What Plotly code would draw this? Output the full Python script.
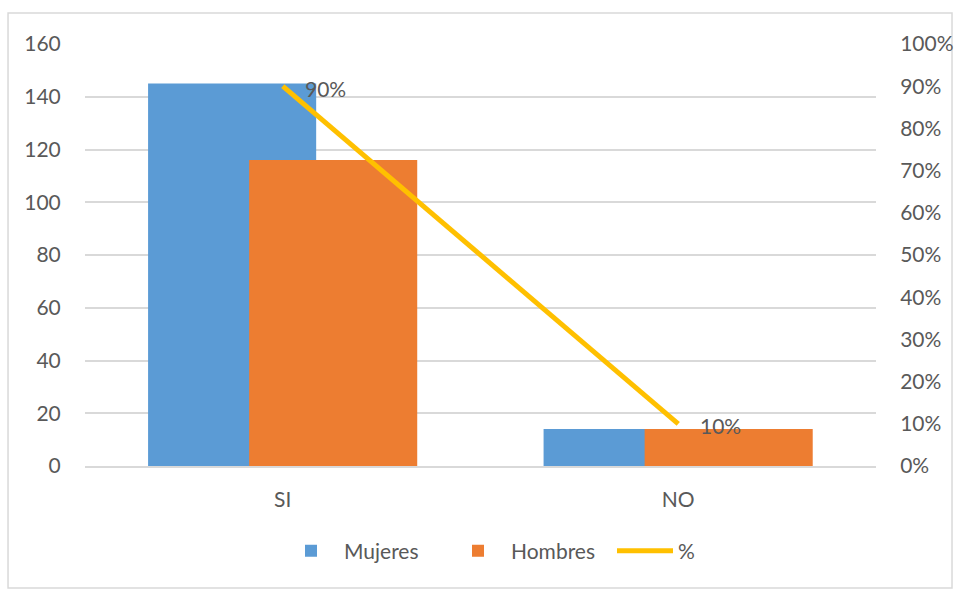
import plotly.graph_objects as go

categories = ["SI", "NO"]
mujeres = [145, 14]
hombres = [116, 14]
pct = [0.90, 0.10]
pct_labels = ["90%", "10%"]

FONT = "Lato"
FS = 21
TXT = "#595959"
GRID = "#D9D9D9"

fig = go.Figure()
fig.add_trace(go.Bar(x=categories, y=mujeres, name="Mujeres", marker_color="#5B9BD5",
                     width=0.425, offset=-0.3405, marker_line_width=0))
fig.add_trace(go.Bar(x=categories, y=hombres, name="Hombres", marker_color="#ED7D31",
                     width=0.425, offset=-0.085, marker_line_width=0))
fig.add_trace(go.Scatter(x=categories, y=pct, name="%", mode="lines", yaxis="y2",
                         line=dict(color="#FFC000", width=5)))

for c, v, t in zip(categories, pct, pct_labels):
    fig.add_annotation(x=c, y=v, xref="x", yref="y2", text=t, showarrow=False,
                       xanchor="left", yanchor="middle", xshift=20, yshift=-2,
                       font=dict(family=FONT, size=FS, color=TXT))

fig.add_shape(type="rect", xref="paper", yref="paper", x0=-0.0973, x1=1.0961,
              y0=-0.289, y1=1.0735, line=dict(color="#D9D9D9", width=1.5), layer="below")

fig.update_layout(
    width=960, height=592,
    margin=dict(l=85, r=84, t=44, b=126, autoexpand=False),
    paper_bgcolor="white", plot_bgcolor="white",
    barmode="overlay",
    font=dict(family=FONT, size=FS, color=TXT),
    xaxis=dict(type="category", range=[-0.5, 1.5], showgrid=False, showline=True,
               linecolor=GRID, linewidth=1.5, ticks="outside", ticklen=14,
               tickcolor="rgba(0,0,0,0)", tickfont=dict(size=FS, color=TXT), automargin=False),
    yaxis=dict(range=[0, 160], dtick=20, showgrid=True, gridcolor=GRID, gridwidth=1.5,
               zeroline=False, showline=False, ticks="outside", ticklen=19,
               tickcolor="rgba(0,0,0,0)", tickfont=dict(size=FS, color=TXT), automargin=False),
    yaxis2=dict(range=[0, 1], dtick=0.1, tickformat=".0%", overlaying="y", side="right",
                showgrid=False, zeroline=False, showline=False, ticks="outside", ticklen=19,
                tickcolor="rgba(0,0,0,0)", tickfont=dict(size=FS, color=TXT), automargin=False),
    legend=dict(orientation="h", x=0.244, xanchor="left", y=-0.2014, yanchor="middle",
                font=dict(size=FS, color=TXT), traceorder="normal", itemwidth=56,
                entrywidth=96),
    showlegend=True,
)

fig.write_html("out.html")
